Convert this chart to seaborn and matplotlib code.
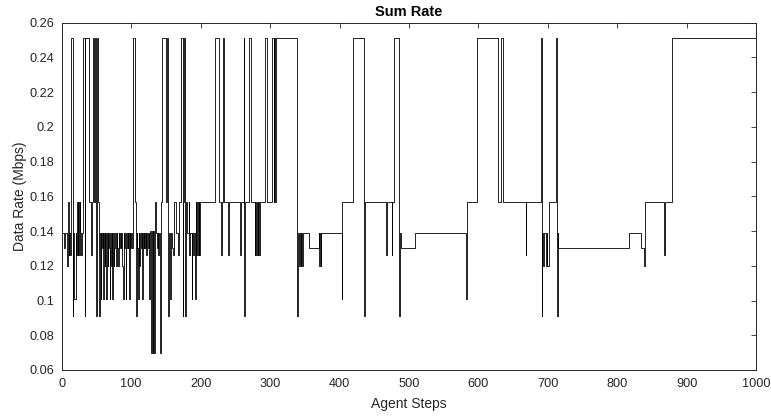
import numpy as np
import pandas as pd
import seaborn as sns
import matplotlib.pyplot as plt
from matplotlib.ticker import FuncFormatter, MultipleLocator

# step where each new value starts (step plot, value held until next change)
steps = [0, 3, 5, 7, 9, 10, 11, 12, 13, 14, 16, 17, 18, 20, 21, 22, 23, 24, 25, 26,
         27, 28, 29, 30, 31, 33, 34, 40, 42, 43, 45, 47, 48, 50, 51, 53, 54,
         55, 56, 57, 58, 59, 60, 61, 62, 63, 64, 65, 66, 67, 68, 69, 70, 71, 72, 73, 74,
         75, 76, 77, 78, 79, 80, 81, 82, 83, 84, 85, 86, 87, 88, 89, 90, 91, 92, 93, 94,
         95, 96, 97, 98, 99, 100, 101, 102, 103, 106, 107, 108, 109, 110, 111, 112, 113,
         114, 115, 116, 117, 118, 119, 120, 121, 122, 123, 124, 125, 126, 127, 128, 129,
         130, 131, 132, 133, 134, 135, 136, 137, 138, 139, 140, 141, 142, 143,
         145, 150, 151, 153, 154, 156, 157, 159, 160, 161, 162, 165, 168, 169, 172, 174,
         175, 176, 178, 179, 181, 183, 184, 185, 187, 188, 189, 190, 192, 193, 194, 195,
         196, 197, 198, 199, 220, 227, 230, 231, 232, 234, 240, 241, 257, 258, 262, 263,
         264, 270, 272, 278, 279, 280, 281, 282, 283, 284, 285, 293, 296, 303, 305, 306,
         307, 309, 339, 340, 342, 343, 344, 345, 346, 347, 356, 370, 371, 372, 373, 374,
         403, 404, 419, 435, 436, 467, 468, 475, 476, 478, 486, 487, 489, 509, 582, 583,
         598, 628, 632, 635, 668, 669, 690, 691, 692, 693, 694, 697, 698, 699, 701, 711,
         713, 714, 715, 817, 834, 838, 840, 867, 868, 878]

rate = [0.139, 0.130, 0.139, 0.120, 0.157, 0.126, 0.139, 0.126, 0.139, 0.251, 0.091, 0.139,
        0.101, 0.139, 0.126, 0.157, 0.126, 0.157, 0.126, 0.157, 0.139, 0.126, 0.139, 0.157,
        0.251, 0.091, 0.251, 0.157, 0.126, 0.157, 0.251, 0.157, 0.251, 0.091, 0.251, 0.157,
        0.091,
        0.139, 0.101, 0.139, 0.130, 0.139, 0.101, 0.139, 0.120, 0.139, 0.101, 0.139, 0.120,
        0.139, 0.130, 0.101, 0.139, 0.120, 0.139, 0.101, 0.139,
        0.120, 0.130, 0.139, 0.120, 0.139, 0.130, 0.120, 0.139, 0.130, 0.139, 0.130, 0.139,
        0.120, 0.101, 0.139, 0.130, 0.139, 0.101, 0.130, 0.139,
        0.130, 0.139, 0.101, 0.139, 0.130, 0.139, 0.130, 0.157, 0.251, 0.157, 0.091, 0.139,
        0.130, 0.101, 0.139, 0.120, 0.139,
        0.130, 0.139, 0.101, 0.139, 0.130, 0.139, 0.130, 0.139, 0.126, 0.139, 0.130, 0.139,
        0.101, 0.140, 0.130, 0.070,
        0.140, 0.070, 0.140, 0.070, 0.130, 0.157, 0.139, 0.130, 0.139, 0.126, 0.139, 0.101,
        0.070, 0.157,
        0.251, 0.157, 0.251, 0.091, 0.139, 0.101, 0.139, 0.130, 0.126, 0.139, 0.157, 0.139,
        0.126, 0.157, 0.251, 0.091,
        0.157, 0.251, 0.091, 0.157, 0.139, 0.157, 0.126, 0.139, 0.101, 0.139, 0.126, 0.139,
        0.101, 0.157, 0.126, 0.157,
        0.126, 0.157, 0.126, 0.157, 0.251, 0.157, 0.126, 0.157, 0.251, 0.157, 0.126, 0.157,
        0.126, 0.157, 0.251, 0.091,
        0.157, 0.251, 0.157, 0.126, 0.157, 0.126, 0.157, 0.126, 0.157, 0.126, 0.157, 0.251,
        0.157, 0.251, 0.157, 0.251,
        0.157, 0.251, 0.091, 0.139, 0.120, 0.139, 0.120, 0.139, 0.120, 0.139, 0.130, 0.139,
        0.120, 0.139, 0.120, 0.139,
        0.101, 0.157, 0.251, 0.091, 0.157, 0.126, 0.157, 0.126, 0.157, 0.251, 0.091, 0.139,
        0.130, 0.139, 0.101, 0.157,
        0.251, 0.157, 0.251, 0.157, 0.126, 0.157, 0.251, 0.091, 0.139, 0.120, 0.139, 0.120,
        0.139, 0.120, 0.157, 0.251,
        0.091, 0.139, 0.130, 0.139, 0.130, 0.120, 0.157, 0.126, 0.157, 0.251]

x_ticks = list(range(0, 1001, 100))

# hold the last value to the end of the run
df = pd.DataFrame({"step": steps + [1000], "rate": rate + [rate[-1]]})

sns.set_theme(style="white")
plt.rcParams['font.family'] = ['Liberation Sans', 'DejaVu Sans']

fig = plt.figure(figsize=(7.71, 4.19), dpi=100)
ax = fig.add_axes([0.080, 0.117, 0.901, 0.829])

sns.lineplot(data=df, x="step", y="rate", drawstyle="steps-post",
             color="black", linewidth=0.6, ax=ax)

ax.set_xlim(0, 1000)
ax.set_ylim(0.06, 0.26)
ax.set_xticks(x_ticks)
ax.yaxis.set_major_locator(MultipleLocator(0.02))
ax.yaxis.set_major_formatter(FuncFormatter(lambda v, p: f"{v:g}"))

ax.tick_params(direction="in", length=3.5, width=0.6, top=True, right=True,
               labelsize=9.2, colors="#262626", labelcolor="#262626")
ax.tick_params(axis="x", pad=6)
ax.tick_params(axis="y", pad=5)
for s in ax.spines.values():
    s.set_color("#262626")
    s.set_linewidth(0.7)

ax.set_xlabel("Agent Steps", fontsize=10, color="#262626", labelpad=5)
ax.set_ylabel("Data Rate (Mbps)", fontsize=10, color="#262626", labelpad=2)
ax.set_title("Sum Rate", fontsize=10.5, fontweight="bold", color="black", pad=5)

fig.savefig("out.png", dpi=100)
